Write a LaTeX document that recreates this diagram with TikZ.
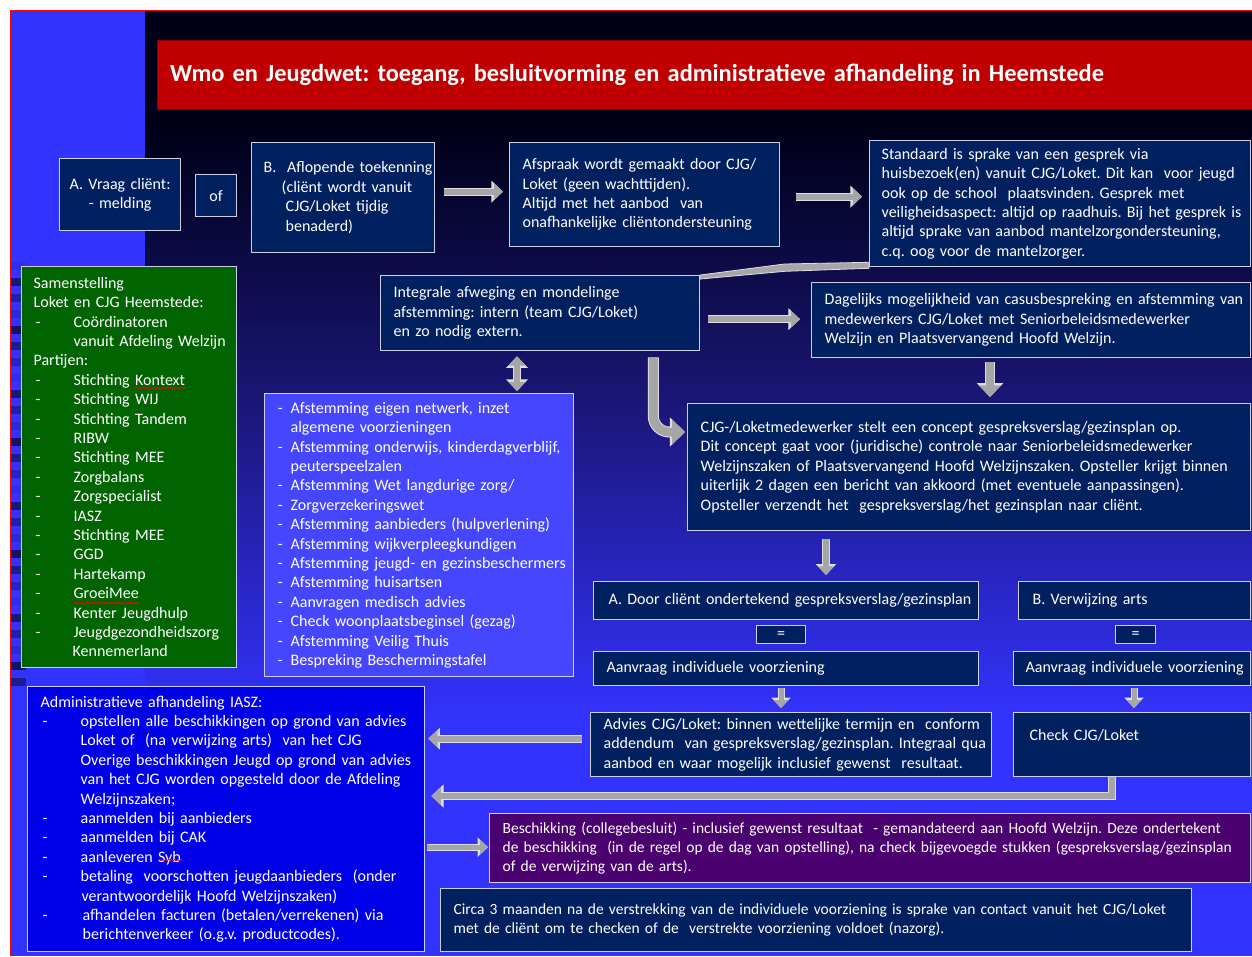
\documentclass[tikz,border=0pt]{standalone}
\usepackage{fontspec}
\setmainfont{Carlito}
\usetikzlibrary{arrows.meta,calc,decorations.pathmorphing}

\definecolor{bgtop}{RGB}{0,0,24}
\definecolor{bgmid}{RGB}{26,22,118}
\definecolor{bgbot}{RGB}{51,51,255}
\definecolor{titlered}{RGB}{192,0,0}
\definecolor{navy}{RGB}{0,32,96}
\definecolor{boxline}{RGB}{205,208,228}
\definecolor{teamgreen}{RGB}{0,100,0}
\definecolor{listblue}{RGB}{70,70,255}
\definecolor{adminblue}{RGB}{0,0,232}
\definecolor{beschpurple}{RGB}{75,0,112}
\definecolor{arrowgray}{RGB}{166,166,166}
\definecolor{arrowedge}{RGB}{222,222,228}

\frenchspacing
\hyphenpenalty=10000
\exhyphenpenalty=10000

% opsommingsstreepjes
\newcommand{\streep}[1]{\makebox[40pt][l]{\hspace*{2pt}-}#1}
\newcommand{\kort}{\leavevmode\llap{-\hspace{8pt}}}

\begin{document}
\begin{tikzpicture}[x=1pt, y=-1pt,
    box/.style={draw=boxline, line width=1.3pt, fill=navy, text=white, anchor=north west,
        inner xsep=0pt, inner ysep=0pt, align=left, font=\fontsize{16}{19.4}\selectfont},
    smal/.style={font=\fontsize{15.5}{19.4}\selectfont},
    midbox/.style={box, align=center},
    lpad/.style={execute at begin node={\leftskip=#1pt\relax}},
    titlebar/.style={fill=titlered, draw=titlered!70!black, anchor=north west, inner sep=0pt,
        align=left, text=white, font=\bfseries\fontsize{24.4}{28}\selectfont},
    pijl/.style={draw=arrowgray, line width=#1, -{Triangle[length=2pt 1.2, width=2pt 2.4]},
        preaction={draw=arrowedge, line width=#1+2pt, -{Triangle[length=2pt 1.2, width=2pt 2.4]}}},
    pijl/.default=6pt,
    dubbelpijl/.style={draw=arrowgray, line width=#1, {Triangle[length=2pt 1.2, width=2pt 2.4]}-{Triangle[length=2pt 1.2, width=2pt 2.4]},
        preaction={draw=arrowedge, line width=#1+2pt, {Triangle[length=2pt 1.2, width=2pt 2.4]}-{Triangle[length=2pt 1.2, width=2pt 2.4]}}},
    wig/.style={fill=arrowgray, draw=arrowedge, line width=0.8pt},
    spel/.style={red, line width=0.6pt, decorate, decoration={snake, amplitude=0.9pt, segment length=3pt}}]

\useasboundingbox (0,0) rectangle (1252,956);

% achtergrond van de dia
\fill[white] (0,0) rectangle (1252,956);
\fill[bgbot] (10,10) rectangle (1252,956);
\fill[bgtop] (145,10) rectangle (1252,130);
\shade[top color=bgtop, bottom color=bgmid] (145,130) rectangle (1252,400);
\shade[top color=bgmid, bottom color=bgbot] (145,400) rectangle (1252,720);
\foreach \k [evaluate=\k as \op using {0.08+0.09*mod(\k*5,7)}] in {0,...,26}
    \fill[black, opacity=\op] (10,{262+16*\k}) rectangle (26,{270+16*\k});
\draw[red, line width=1pt] (10,956) -- (10,10) -- (1252,10);

% kop
\node[titlebar, lpad=13, text width=1095pt, minimum height=69pt] (titel) at (157,40)
    {Wmo en Jeugdwet: toegang, besluitvorming en administratieve afhandeling in Heemstede};

% toegang
\node[midbox, text width=121pt, minimum height=72pt] (vraag) at (59,158) {A. Vraag cliënt:\\- melding};
\node[midbox, text width=41pt, minimum height=42pt] (of) at (195,174) {of};
\node[box, lpad=12, text width=183pt, minimum height=110pt] (aflopend) at (251,142)
    {B.\ \ Aflopende toekenning\\\hspace*{18pt}(cliënt wordt vanuit\\\hspace*{22pt}CJG/Loket tijdig\\\hspace*{22pt}benaderd)};
\node[box, lpad=13, text width=270pt, minimum height=104pt] (afspraak) at (509,142)
    {Afspraak wordt gemaakt door CJG/\\Loket (geen wachttijden).\\Altijd met het aanbod\ \ van\\onafhankelijke cliëntondersteuning};
\node[box, lpad=12, text width=381pt, minimum height=126pt] (standaard) at (869,140)
    {Standaard is sprake van een gesprek via\\huisbezoek(en) vanuit CJG/Loket. Dit kan\ \ voor jeugd\\ook op de school\ \ plaatsvinden. Gesprek met\\veiligheidsaspect: altijd op raadhuis. Bij het gesprek is\\altijd sprake van aanbod mantelzorgondersteuning,\\c.q. oog voor de mantelzorger.};

% samenstelling
\node[box, fill=teamgreen, lpad=12, text width=215pt, minimum height=401pt] (team) at (21,266)
    {Samenstelling\\
    Loket en CJG Heemstede:\\
    \streep{Coördinatoren}\\
    \hspace*{40pt}vanuit Afdeling Welzijn\\
    Partijen:\\
    \streep{Stichting Kontext}\\
    \streep{Stichting WIJ}\\
    \streep{Stichting Tandem}\\
    \streep{RIBW}\\
    \streep{Stichting MEE}\\
    \streep{Zorgbalans}\\
    \streep{Zorgspecialist}\\
    \streep{IASZ}\\
    \streep{Stichting MEE}\\
    \streep{GGD}\\
    \streep{Hartekamp}\\
    \streep{GroeiMee}\\
    \streep{Kenter Jeugdhulp}\\
    \streep{Jeugdgezondheidszorg}\\
    \hspace*{39pt}Kennemerland};

% afweging
\node[box, lpad=13, text width=319pt, minimum height=75pt] (integraal) at (380,275)
    {Integrale afweging en mondelinge\\afstemming: intern (team CJG/Loket)\\en zo nodig extern.};
\node[box, lpad=13, text width=439pt, minimum height=75pt] (dagelijks) at (811,282)
    {Dagelijks mogelijkheid van casusbespreking en afstemming van\\medewerkers CJG/Loket met Seniorbeleidsmedewerker\\Welzijn en Plaatsvervangend Hoofd Welzijn.};
\node[box, fill=listblue, lpad=26, text width=309pt, minimum height=283pt] (afstemming) at (264,393)
    {\kort Afstemming eigen netwerk, inzet\\
    algemene voorzieningen\\
    \kort Afstemming onderwijs, kinderdagverblijf,\\
    peuterspeelzalen\\
    \kort Afstemming Wet langdurige zorg/\\
    \kort Zorgverzekeringswet\\
    \kort Afstemming aanbieders (hulpverlening)\\
    \kort Afstemming wijkverpleegkundigen\\
    \kort Afstemming jeugd- en gezinsbeschermers\\
    \kort Afstemming huisartsen\\
    \kort Aanvragen medisch advies\\
    \kort Check woonplaatsbeginsel (gezag)\\
    \kort Afstemming Veilig Thuis\\
    \kort Bespreking Beschermingstafel};
\node[box, lpad=13, text width=563pt, minimum height=127pt] (concept) at (687,403)
    {CJG-/Loketmedewerker stelt een concept gespreksverslag/gezinsplan op.\\Dit concept gaat voor (juridische) controle naar Seniorbeleidsmedewerker\\Welzijnszaken of Plaatsvervangend Hoofd Welzijnszaken. Opsteller krijgt binnen\\uiterlijk 2 dagen een bericht van akkoord (met eventuele aanpassingen).\\Opsteller verzendt het\ \ gespreksverslag/het gezinsplan naar cliënt.};

% aanvraag
\node[box, lpad=15, text width=385pt, minimum height=38pt] (doorA) at (593,581) {A. Door cliënt ondertekend gespreksverslag/gezinsplan};
\node[box, lpad=14, text width=232pt, minimum height=38pt] (verwijzingB) at (1018,581) {B. Verwijzing arts};
\node[midbox, text width=49pt, minimum height=18pt] (isA) at (756,625) {=};
\node[midbox, text width=40pt, minimum height=18pt] (isB) at (1115,625) {=};
\node[box, lpad=13, text width=385pt, minimum height=34pt] (aanvraagA) at (593,651) {Aanvraag individuele voorziening};
\node[box, lpad=12, text width=237pt, minimum height=34pt] (aanvraagB) at (1013,651) {Aanvraag individuele voorziening};
\node[box, lpad=13, text width=401pt, minimum height=64pt] (advies) at (590,712)
    {Advies CJG/Loket: binnen wettelijke termijn en\ \ conform\\addendum\ \ van gespreksverslag/gezinsplan. Integraal qua\\aanbod en waar mogelijk inclusief gewenst\ \ resultaat.};
\node[box, lpad=16, text width=237pt, minimum height=64pt] (check) at (1013,712) {Check CJG/Loket\\\mbox{}};

% administratie en besluit
\node[box, fill=adminblue, lpad=13, text width=397pt, minimum height=265pt] (admin) at (27,686)
    {Administratieve afhandeling IASZ:\\
    \streep{opstellen alle beschikkingen op grond van advies}\\
    \hspace*{40pt}Loket of\ \ (na verwijzing arts)\ \ van het CJG\\
    \hspace*{40pt}Overige beschikkingen Jeugd op grond van advies\\
    \hspace*{40pt}van het CJG worden opgesteld door de Afdeling\\
    \hspace*{40pt}Welzijnszaken;\\
    \streep{aanmelden bij aanbieders}\\
    \streep{aanmelden bij CAK}\\
    \streep{aanleveren Syb}\\
    \streep{betaling\ \ voorschotten jeugdaanbieders\ \ (onder}\\
    \hspace*{41pt}verantwoordelijk Hoofd Welzijnszaken)\\
    \streep{\hspace*{2pt}afhandelen facturen (betalen/verrekenen) via}\\
    \hspace*{42pt}berichtenverkeer (o.g.v. productcodes).};
\node[box, smal, fill=beschpurple, lpad=13, text width=761pt, minimum height=69pt] (beschikking) at (489,813)
    {Beschikking (collegebesluit) - inclusief gewenst resultaat\ \ - gemandateerd aan Hoofd Welzijn. Deze ondertekent\\de beschikking\ \ (in de regel op de dag van opstelling), na check bijgevoegde stukken (gespreksverslag/gezinsplan\\of de verwijzing van de arts).};
\node[box, smal, lpad=13, text width=751pt, minimum height=63pt] (nazorg) at (440,888)
    {Circa 3 maanden na de verstrekking van de individuele voorziening is sprake van contact vanuit het CJG/Loket\\met de cliënt om te checken of de\ \ verstrekte voorziening voldoet (nazorg).};

% spellingcontrole
\draw[spel] (133,388) -- (186,388);
\draw[spel] (73,603) -- (140,603);
\draw[spel] (159,860) -- (182,860);

% pijlen
\draw[pijl] ($(aflopend.east |- afspraak.west)+(9,-3)$) -- ($(afspraak.west)+(-6,-3)$);
\draw[pijl] ($(afspraak.east)+(16,2)$) -- ($(afspraak.east -| standaard.west)+(-7,2)$);
\filldraw[wig] (integraal.north east) -- ++(84,-11) -- ($(standaard.south west)+(0,-5)$)
    -- ($(standaard.south west)+(0,1)$) -- ++(-84,3) -- ($(integraal.north east)+(0,4)$) -- cycle;
\draw[pijl] ($(integraal.east |- dagelijks.west)+(8,-1)$) -- ($(dagelijks.west)+(-11,-1)$);
\draw[dubbelpijl=6pt] ($(integraal.south west)+(137,5)$) -- ($(afstemming.north west)+(253,-2)$);
\draw[pijl=9pt, rounded corners=16pt] ($(integraal.south east)+(-47,6)$) |- ($(concept.north west)+(-2,29)$);
\draw[pijl=8pt] ($(dagelijks.south west)+(179,4)$) -- ($(concept.north west)+(303,-6)$);
\draw[pijl=5.5pt] ($(concept.south west)+(139,8)$) -- ($(doorA.north west)+(233,-6)$);
\draw[pijl=5pt] ($(aanvraagA.south west)+(188,2)$) -- ($(advies.north west)+(191,-4)$);
\draw[pijl=5pt] ($(aanvraagB.south west)+(121,2)$) -- ($(check.north west)+(121,-4)$);
\draw[pijl] ($(advies.west)+(-8,-6)$) -- ($(admin.east |- advies.west)+(3,-6)$);
\draw[pijl=6.5pt] ($(check.south west)+(99,0)$) |- ($(admin.north east)+(6,110)$);
\draw[pijl=5pt] ($(admin.east |- beschikking.west)+(2,-1)$) -- ($(beschikking.west)+(-1,-1)$);

\end{tikzpicture}
\end{document}
